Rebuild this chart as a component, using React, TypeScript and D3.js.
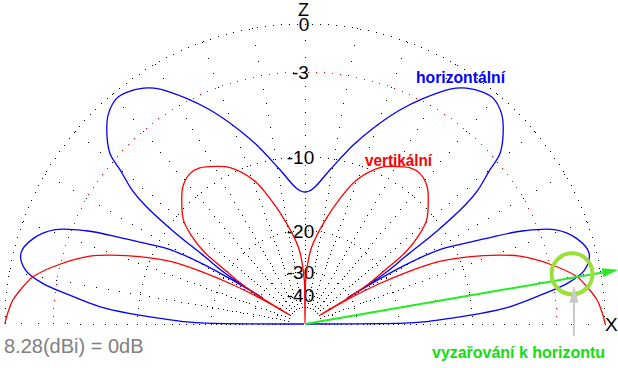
import React from 'react';
import * as d3 from 'd3';

const W = 618;
const H = 368;
const cx = 305;
const cy = 324;
const R = 300;

// Elevation angle (deg above the right horizon) and relative gain (dB).
// Patterns are symmetric, only the right half is listed.
const horizAngle = [0, 0.5, 1, 2.25, 3.3, 4.8, 7.2, 8.8, 10.9, 14, 17.5, 20.7, 23.1, 25.2, 26.8, 29, 30.5, 31.1, 31.35, 31.55, 31.8, 32.5, 33.9, 35.2, 36.6, 37.8, 39.8, 41.2, 44.4, 47, 50.2, 52.4, 55.6, 58.3, 62.3, 66.1, 70.8, 74.9, 80.8, 86.5, 90];
const horizDb = [-100, -19, -16, -12.5, -9.55, -6.5, -3.8, -2.1, -0.9, -0.42, -0.9, -2.0, -4.0, -6.8, -8.9, -11.6, -16.3, -21, -25, -31, -24, -19.5, -15.6, -10.5, -7.0, -5.4, -3.8, -2.5, -1.34, -0.7, -0.35, -0.44, -0.83, -1.42, -2.8, -4.26, -6.34, -8.26, -11.2, -13.6, -14.1];

const vertAngle = [0, 0.8, 3.4, 4.7, 7.7, 9.9, 13.7, 17.5, 21.0, 23.7, 25, 26.9, 28.5, 29.8, 30.5, 31.2, 32.2, 34, 35.6, 38, 40.5, 44.4, 48.4, 52.6, 56, 60.7, 64.4, 70.3, 74.4, 79.7, 85, 87, 88.5, 89.3, 90];
const vertDb = [0, -0.04, -0.26, -0.4, -0.95, -1.44, -2.97, -4.9, -7.75, -10.6, -12.2, -16.5, -22, -30, -49, -30, -24, -19.5, -15.1, -12.5, -10.8, -9.5, -8.4, -7.9, -8.0, -8.7, -9.4, -11.55, -14.3, -18.5, -23.2, -26.5, -31, -34, -100];

const ringDb = [0, -3, -10, -20, -30, -40, -50];
const ringLabels = ['0', '-3', '-10', '-20', '-30', '-40'];
const radialAngles = d3.range(0, 181, 10);
const radialDotDb = d3.range(0, -51, -1);

// annotation: elevation of the arrow and the marked crossing
const arrowAngle = 9.8;
const markAngle = 10.65;
const markDb = -1.7;

const App = () => {
  // ARRL log-periodic scale: 0.89 radius factor per 2 dB
  const rScale = d3.scaleLog().domain([R * Math.pow(0.89, 25), R]).range([-50, 0]);
  const rad = (db: number) => rScale.invert(db);
  const pt = (deg: number, r: number): [number, number] => {
    const a = (deg * Math.PI) / 180;
    return [cx + r * Math.cos(a), cy - r * Math.sin(a)];
  };
  const full = (ang: number[], db: number[]) => {
    const right = ang.map((a, i) => pt(a, rad(db[i])));
    const left = ang.slice(0, -1).map((a, i) => pt(180 - a, rad(db[i]))).reverse();
    return [...right, ...left];
  };
  const line = d3.line().curve(d3.curveCatmullRom.alpha(0.5));

  const dots: { x: number; y: number; c: string }[] = [];
  ringDb.forEach((db) => {
    const r = rad(db);
    const n = Math.max(4, Math.round((Math.PI * r) / 8));
    d3.range(n + 1).forEach((k) => {
      const [x, y] = pt((k / n) * 180, r);
      dots.push({ x, y, c: db === -3 ? '#ff0000' : '#000' });
    });
  });
  radialAngles.forEach((a) => {
    let last = Infinity;
    radialDotDb.forEach((db) => {
      const r = rad(db);
      if (last - r < 3.5) return; // thin out dots near the centre
      last = r;
      const [x, y] = pt(a, r);
      dots.push({ x, y, c: '#000' });
    });
  });

  const [ax, ay] = pt(arrowAngle, R * 1.06);
  const ang = Math.atan2(ay - cy, ax - cx);
  const headLen = 16;
  const headW = 4.5;
  const bx = ax - headLen * Math.cos(ang);
  const by = ay - headLen * Math.sin(ang);
  const nx = -Math.sin(ang);
  const ny = Math.cos(ang);
  const [mx, my] = pt(markAngle, rad(markDb));
  const gTip = my + 12;

  const font = 'Liberation Sans, Arial, sans-serif';

  return (
    <svg width={W} height={H} style={{ position: 'absolute', left: 0, top: 0, background: '#fff' }}>
      <g shapeRendering="crispEdges">
        {dots.map((d, i) => (
          <rect key={i} x={Math.round(d.x - 0.5)} y={Math.round(d.y - 0.5)} width={1} height={1} fill={d.c} />
        ))}
      </g>
      <g fontFamily={font} fontSize={19} fill="#000">
        {ringLabels.map((t, i) => (
          <text key={t} x={t === '0' ? cx - 1 : cx - 4.5} y={cy - rad(ringDb[i])} dy="0.38em" textAnchor="middle">
            {t}
          </text>
        ))}
        <text x={cx - 1.5} y={15.5} fontSize={18} textAnchor="middle">Z</text>
        <text x={605} y={330.5}>X</text>
      </g>
      <path d={line(full(horizAngle, horizDb)) || ''} fill="none" stroke="#0000ff" strokeWidth={1.3} />
      <path d={line(full(vertAngle, vertDb)) || ''} fill="none" stroke="#ff0000" strokeWidth={1.3} />
      <line x1={cx} y1={cy} x2={bx} y2={by} stroke="#22ee22" strokeWidth={2} />
      <polygon
        points={`${ax},${ay} ${bx + nx * headW},${by + ny * headW} ${bx - nx * headW},${by - ny * headW}`}
        fill="#22ee22"
      />
      <circle cx={mx} cy={my} r={20.5} fill="none" stroke="#9be03a" strokeWidth={4} />
      <line x1={mx + 2} y1={gTip + 14} x2={mx + 2} y2={gTip + 50} stroke="#c8c8c8" strokeWidth={2} />
      <polygon points={`${mx + 2},${gTip} ${mx - 2.5},${gTip + 17} ${mx + 6.5},${gTip + 17}`} fill="#c8c8c8" />
      <g fontFamily={font} fontWeight="bold" fontSize={17}>
        <text x={416} y={83} fill="#0000ff" textLength={89} lengthAdjust="spacingAndGlyphs">horizontální</text>
        <text x={365} y={166} fill="#ff0000" textLength={67} lengthAdjust="spacingAndGlyphs">vertikální</text>
        <text x={432} y={358} fill="#11dd11" textLength={173} lengthAdjust="spacingAndGlyphs">vyzařování k horizontu</text>
      </g>
      <text x={4} y={352.5} fontFamily={font} fontSize={20} fill="#808080">8.28(dBi) = 0dB</text>
    </svg>
  );
};

export default App;
